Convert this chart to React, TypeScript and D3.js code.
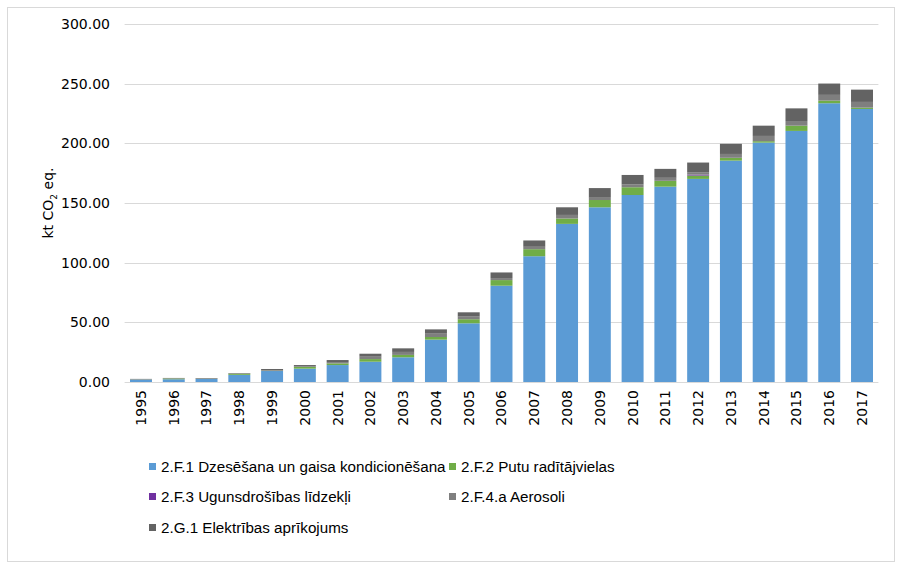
import React, { useEffect, useRef } from 'react';
import * as d3 from 'd3';

// years on the x axis
const years = ['1995', '1996', '1997', '1998', '1999', '2000', '2001', '2002', '2003', '2004', '2005', '2006',
  '2007', '2008', '2009', '2010', '2011', '2012', '2013', '2014', '2015', '2016', '2017'];

// kt CO2 eq. per category
const cooling = [2.0, 2.3, 2.5, 6.0, 9.2, 11.2, 14.2, 17.0, 20.7, 35.5, 49.2, 80.7,
  105.4, 132.5, 146.4, 156.7, 163.7, 170.2, 185.5, 200.6, 210.4, 233.6, 228.8];
const foam = [0.1, 0.6, 0.1, 0.9, 0.2, 1.4, 1.4, 2.2, 2.0, 2.2, 3.4, 4.7,
  5.9, 4.5, 6.1, 6.5, 4.8, 2.8, 2.3, 1.2, 4.4, 2.2, 1.1];
const fire = [0, 0, 0, 0, 0, 0, 0, 0, 0, 0, 0, 0,
  0, 0, 0, 0, 0.1, 0.8, 0.1, 0, 0, 0, 0];
const aerosols = [0.2, 0.2, 0.3, 0.2, 0.6, 0.6, 1.1, 2.0, 2.5, 2.8, 2.2, 1.7,
  2.0, 3.0, 1.9, 2.5, 2.5, 2.0, 3.2, 4.4, 3.9, 4.8, 4.8];
const electrical = [0.3, 0.3, 0.4, 0.4, 0.9, 1.0, 1.7, 2.5, 3.0, 3.6, 3.6, 4.7,
  5.3, 6.4, 8.1, 7.8, 7.5, 8.1, 8.5, 8.6, 10.6, 9.5, 10.3];

const seriesNames = ['2.F.1 Dzesēšana un gaisa kondicionēšana', '2.F.2 Putu radītājvielas',
  '2.F.3 Ugunsdrošības līdzekļi', '2.F.4.a Aerosoli', '2.G.1 Elektrības aprīkojums'];
const seriesColors = ['#5b9bd5', '#70ad47', '#7030a0', '#7f7f7f', '#636363'];
const yTicks = [0, 50, 100, 150, 200, 250, 300];

const W = 902;
const H = 569;
const font = 'Tahoma, "DejaVu Sans", sans-serif';
const legendFont = 'Tahoma, "Liberation Sans", sans-serif';

const App = () => {
  const ref = useRef<SVGSVGElement>(null);

  useEffect(() => {
    const svg = d3.select(ref.current);
    svg.selectAll('*').remove();

    const margin = { left: 124.6, right: 23.6, top: 24, bottom: 187 };
    const x = d3.scaleBand().domain(years).range([margin.left, W - margin.right]).paddingInner(0.33).paddingOuter(0.165);
    const y = d3.scaleLinear().domain([0, 300]).range([H - margin.bottom, margin.top]);

    // outer frame
    svg.append('rect')
      .attr('x', 7.5).attr('y', 7.5).attr('width', W - 15).attr('height', H - 15)
      .attr('fill', '#fff').attr('stroke', '#d9d9d9');

    // gridlines
    svg.append('g')
      .selectAll('line')
      .data(yTicks)
      .join('line')
      .attr('x1', margin.left).attr('x2', W - margin.right)
      .attr('y1', d => Math.round(y(d)) + 0.5).attr('y2', d => Math.round(y(d)) + 0.5)
      .attr('stroke', '#d9d9d9').attr('stroke-width', 1);

    // y tick labels
    svg.append('g')
      .selectAll('text')
      .data(yTicks)
      .join('text')
      .attr('x', 110).attr('y', d => y(d))
      .attr('dy', '0.35em')
      .attr('text-anchor', 'end')
      .style('font-family', font).style('font-size', '14px').attr('fill', '#000')
      .text(d => d3.format('.2f')(d));

    // stacked bars
    const rows = years.map((yr, i) => ({
      year: yr, s0: cooling[i], s1: foam[i], s2: fire[i], s3: aerosols[i], s4: electrical[i],
    }));
    const keys = ['s0', 's1', 's2', 's3', 's4'];
    const stacked = d3.stack<any>().keys(keys)(rows);

    svg.append('g')
      .selectAll('g')
      .data(stacked)
      .join('g')
      .attr('fill', (d, i) => seriesColors[i])
      .selectAll('rect')
      .data(d => d)
      .join('rect')
      .attr('x', d => x(d.data.year)!)
      .attr('width', x.bandwidth())
      .attr('y', d => y(d[1]))
      .attr('height', d => y(d[0]) - y(d[1]));

    // x tick labels, rotated
    svg.append('g')
      .selectAll('text')
      .data(years)
      .join('text')
      .attr('transform', d => `translate(${x(d)! + x.bandwidth() / 2},${y(0) + 8}) rotate(-90)`)
      .attr('dy', '0.35em')
      .attr('text-anchor', 'end')
      .style('font-family', font).style('font-size', '14px').attr('fill', '#000')
      .text(d => d);

    // y axis title
    const title = svg.append('text')
      .attr('transform', `translate(53,${(y(0) + y(300)) / 2}) rotate(-90)`)
      .attr('text-anchor', 'middle')
      .style('font-family', font).style('font-size', '14px').attr('fill', '#000');
    title.append('tspan').text('kt CO');
    title.append('tspan').attr('font-size', '9px').attr('dy', 4).text('2');
    title.append('tspan').attr('dy', -4).text(' eq.');

    // legend
    const legendPos = [[149, 467], [449, 467], [149, 497], [449, 497], [149, 528]];
    const leg = svg.append('g')
      .selectAll('g')
      .data(seriesNames)
      .join('g')
      .attr('transform', (d, i) => `translate(${legendPos[i][0]},${legendPos[i][1]})`);
    leg.append('rect')
      .attr('x', 0).attr('y', -4).attr('width', 7).attr('height', 7)
      .attr('fill', (d, i) => seriesColors[i]);
    leg.append('text')
      .attr('x', 12).attr('dy', '0.35em')
      .style('font-family', legendFont).style('font-size', '15.2px').attr('fill', '#000')
      .text(d => d);
  }, []);

  return (
    <svg ref={ref} width={W} height={H} style={{ position: 'absolute', left: 0, top: 0 }} />
  );
};

export default App;
